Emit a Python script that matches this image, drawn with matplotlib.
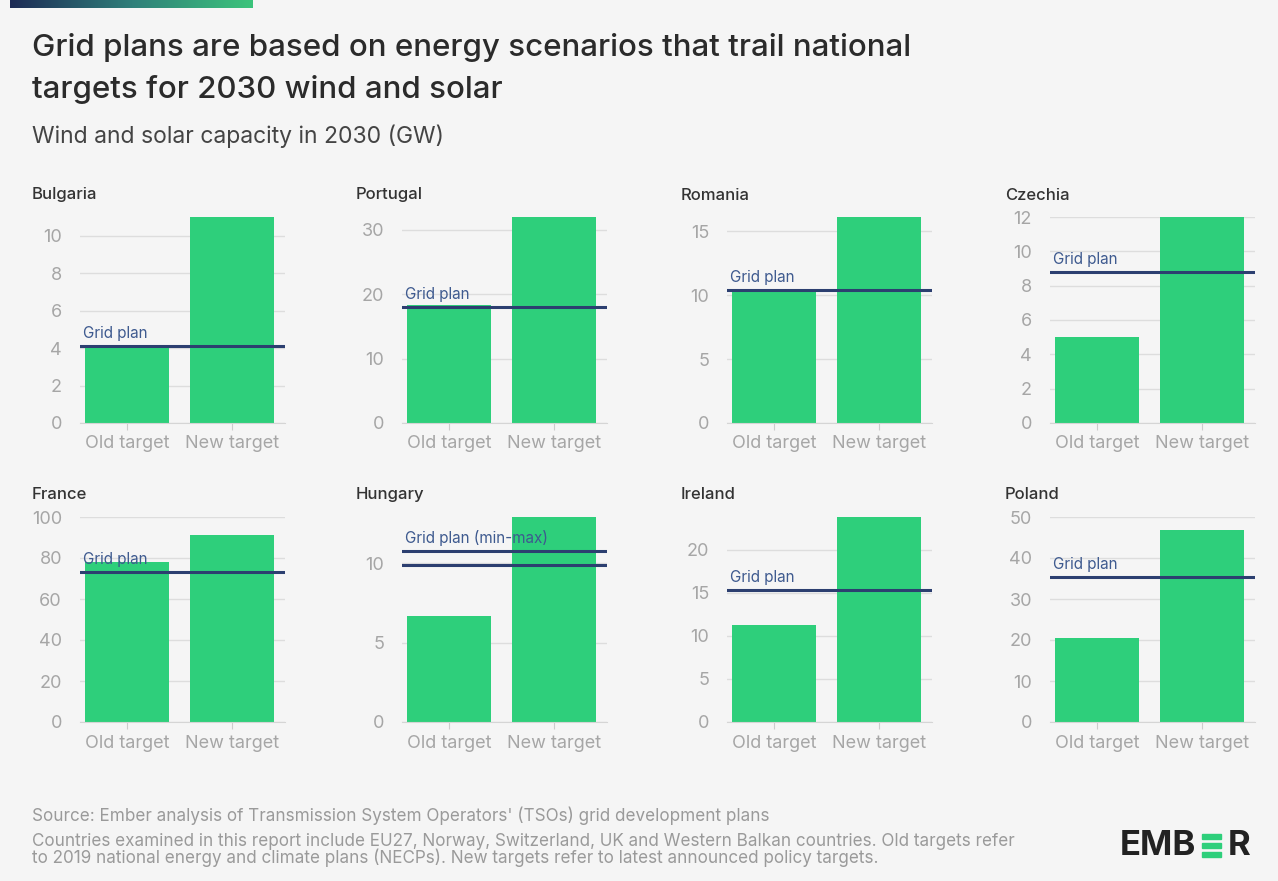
import numpy as np
import matplotlib.pyplot as plt
from matplotlib.colors import LinearSegmentedColormap
from matplotlib.patches import Rectangle

plt.rcParams['font.family'] = ['Inter', 'DejaVu Sans']

countries = ['Bulgaria', 'Portugal', 'Romania', 'Czechia',
             'France', 'Hungary', 'Ireland', 'Poland']
categories = ['Old target', 'New target']
old_target = [4.0, 18.3, 10.3, 5.0, 78, 6.7, 11.3, 20.4]
new_target = [11.0, 32.0, 16.1, 12.0, 91, 12.9, 23.8, 46.8]
grid_plan = [[4.1], [18.0], [10.4], [8.8], [73], [9.9, 10.75], [15.3], [35.4]]
grid_label = ['Grid plan', 'Grid plan', 'Grid plan', 'Grid plan',
              'Grid plan', 'Grid plan (min-max)', 'Grid plan', 'Grid plan']
yticks = [[0, 2, 4, 6, 8, 10], [0, 10, 20, 30], [0, 5, 10, 15],
          [0, 2, 4, 6, 8, 10, 12], [0, 20, 40, 60, 80, 100],
          [0, 5, 10], [0, 5, 10, 15, 20], [0, 10, 20, 30, 40, 50]]

bg = '#f5f5f5'
green = '#2ecf7b'
navy = '#2c3f70'

W, H = 1278, 881
fig = plt.figure(figsize=(W / 100, H / 100), dpi=100, facecolor=bg)

# gradient bar top left
gax = fig.add_axes([10 / W, 1 - 8 / H, 243 / W, 8 / H])
cmap = LinearSegmentedColormap.from_list('g', ['#1d2b55', '#2f7f7a', '#3cc47c'])
gax.imshow(np.linspace(0, 1, 256)[None, :], aspect='auto', cmap=cmap)
gax.axis('off')

fig.text(32 / W, 1 - 48 / H, 'Grid plans are based on energy scenarios that trail national',
         fontsize=22.5, color='#2b2b2b', va='center', fontweight='medium')
fig.text(32 / W, 1 - 89 / H, 'targets for 2030 wind and solar',
         fontsize=22.5, color='#2b2b2b', va='center', fontweight='medium')
fig.text(32 / W, 1 - 136 / H, 'Wind and solar capacity in 2030 (GW)',
         fontsize=16.5, color='#444444', va='center')

lefts = [80, 402, 727, 1050]
tops = [217, 517]
bottoms = [423, 722]
title_x = [32, 356, 681, 1005]
title_y = [195, 494]

for i, c in enumerate(countries):
    r, col = divmod(i, 4)
    ax = fig.add_axes([lefts[col] / W, 1 - bottoms[r] / H, 205 / W,
                       (bottoms[r] - tops[r]) / H])
    ax.set_facecolor(bg)
    x = np.arange(len(categories))
    ax.bar(x, [old_target[i], new_target[i]], width=0.8, color=green, zorder=2)
    for g in grid_plan[i]:
        ax.axhline(g, color=navy, lw=2.2, zorder=3)
    top = max(new_target[i], yticks[i][-1])
    ax.set_ylim(0, top)
    ax.set_xlim(-0.45, 1.5)
    ax.text(-0.42, max(grid_plan[i]) + top * 0.025, grid_label[i], color='#3e5a8f',
            fontsize=11, va='bottom', zorder=4)
    ax.set_yticks(yticks[i])
    ax.set_xticks(x)
    ax.set_xticklabels(categories, fontsize=13, color='#a6a6a6')
    ax.tick_params(axis='y', length=0, labelsize=13, labelcolor='#a6a6a6', pad=13)
    ax.tick_params(axis='x', length=5, color='#cccccc', pad=4)
    ax.grid(axis='y', color='#dddddd', lw=1, zorder=0)
    for s in ['top', 'right', 'left']:
        ax.spines[s].set_visible(False)
    ax.spines['bottom'].set_color('#d5d5d5')
    fig.text(title_x[col] / W, 1 - title_y[r] / H, c, fontsize=12,
             color='#333333', va='center', fontweight='medium')

foot = dict(fontsize=12.3, color='#9a9a9a', va='center')
fig.text(32 / W, 1 - 816 / H,
         "Source: Ember analysis of Transmission System Operators' (TSOs) grid development plans",
         **foot)
fig.text(32 / W, 1 - 841 / H,
         'Countries examined in this report include EU27, Norway, Switzerland, UK and Western Balkan countries. Old targets refer',
         **foot)
fig.text(32 / W, 1 - 858 / H,
         'to 2019 national energy and climate plans (NECPs). New targets refer to latest announced policy targets.',
         **foot)

# logo
fig.text(1120 / W, 1 - 846 / H, 'EMB', fontsize=25, fontweight='bold',
         color='#222222', va='center')
fig.text(1250 / W, 1 - 846 / H, 'R', fontsize=25, fontweight='bold',
         color='#222222', va='center', ha='right')
for yb in [834, 843, 852]:
    fig.patches.append(Rectangle((1202 / W, 1 - (yb + 5) / H), 19 / W, 5 / H,
                                 transform=fig.transFigure, color=green))

fig.savefig('out.png', dpi=100, facecolor=bg)
